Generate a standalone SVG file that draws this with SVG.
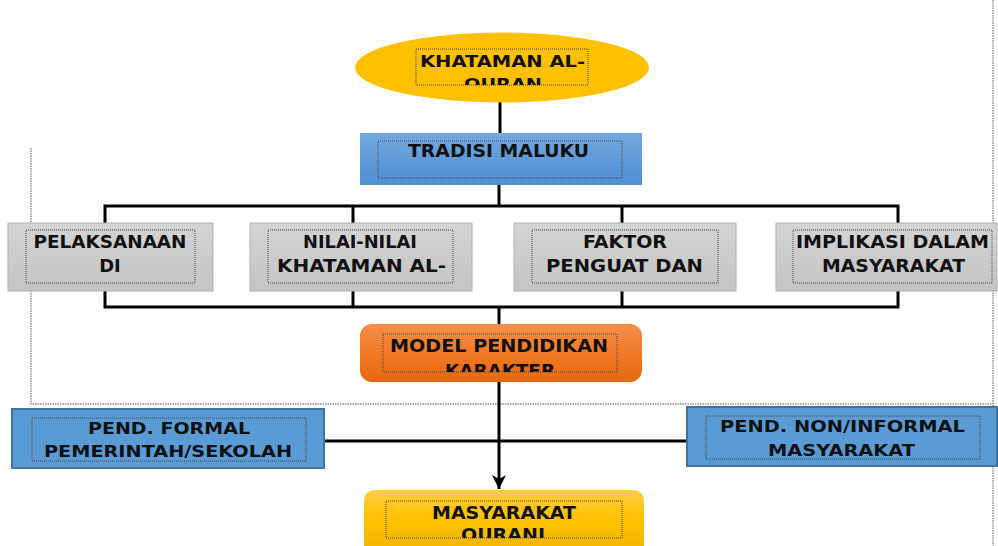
<svg xmlns="http://www.w3.org/2000/svg" width="998" height="546" viewBox="0 0 998 546">
<defs>
<style>
.t{font-family:"DejaVu Sans","Liberation Sans",sans-serif;font-weight:bold;fill:#111;text-anchor:middle}
.s17{font-size:18px}
.s16{font-size:17px}
.s15{font-size:16px}
.dot{fill:none;stroke:#444;stroke-width:1;stroke-dasharray:1 1}
.frame{fill:none;stroke:#555;stroke-width:1;stroke-dasharray:1.5 1}
.conn{fill:none;stroke:#000;stroke-width:3}
.gray{fill:url(#gGray);stroke:#b0b0b0;stroke-width:1}
.pend{fill:#5b9bd5;stroke:#41719c;stroke-width:2}
</style>
<linearGradient id="gGray" x1="0" y1="0" x2="0" y2="1"><stop offset="0" stop-color="#d4d4d4"/><stop offset="1" stop-color="#c3c3c3"/></linearGradient>
<linearGradient id="gBlue" x1="0" y1="0" x2="0" y2="1"><stop offset="0" stop-color="#72a9de"/><stop offset="1" stop-color="#4e8ed3"/></linearGradient>
<linearGradient id="gOrange" x1="0" y1="0" x2="0" y2="1"><stop offset="0" stop-color="#f48d4c"/><stop offset="0.6" stop-color="#f0761f"/><stop offset="1" stop-color="#e36a12"/></linearGradient>
<linearGradient id="gGold" x1="0" y1="0" x2="0" y2="1"><stop offset="0" stop-color="#ffcd45"/><stop offset="0.5" stop-color="#ffc200"/><stop offset="1" stop-color="#f2b600"/></linearGradient>
<clipPath id="cE"><rect x="416" y="49" width="172" height="36"/></clipPath>
<clipPath id="cM"><rect x="383" y="334" width="234" height="38"/></clipPath>
<clipPath id="cQ"><rect x="386" y="501" width="236" height="37"/></clipPath>
<marker id="arr" markerWidth="16" markerHeight="16" viewBox="0 0 16 16" refX="14" refY="8" orient="auto" markerUnits="userSpaceOnUse">
<path d="M0,1 L14,8 L0,15 L4,8 z" fill="#000"/>
</marker>
</defs>

<g id="frame">
<path class="frame" d="M31,148 V404 H993"/>
<path class="frame" d="M993,0 V546"/>
</g>

<g id="connectors">
<path class="conn" d="M500,102 V133"/>
<path class="conn" d="M499,185 V206"/>
<path class="conn" d="M105,224 V206 H898 V224"/>
<path class="conn" d="M353,206 V224"/>
<path class="conn" d="M622,206 V224"/>
<path class="conn" d="M105,291 V307 H898 V291"/>
<path class="conn" d="M353,291 V307"/>
<path class="conn" d="M622,291 V307"/>
<path class="conn" d="M499,307 V489" marker-end="url(#arr)"/>
<path class="conn" d="M324,441 H687"/>
</g>

<g id="khataman">
<ellipse cx="502" cy="67.5" rx="147" ry="35" fill="#ffc000"/>
<rect class="dot" x="416" y="49" width="172" height="36"/>
<g clip-path="url(#cE)">
<text class="t s15" x="502.5" y="67" textLength="165" lengthAdjust="spacingAndGlyphs">KHATAMAN AL-</text>
<text class="t s15" x="503" y="90" textLength="78" lengthAdjust="spacingAndGlyphs">QURAN</text>
</g>
</g>

<g id="tradisi">
<rect x="360" y="133" width="282" height="52" fill="url(#gBlue)"/>
<rect class="dot" x="378" y="141" width="244" height="37"/>
<text class="t s17" x="498.5" y="157" textLength="181" lengthAdjust="spacingAndGlyphs">TRADISI MALUKU</text>
</g>

<g id="pelaksanaan">
<rect class="gray" x="8" y="223" width="205" height="68"/>
<rect class="dot" x="26" y="230" width="169" height="53"/>
<text class="t s17" x="110" y="248" textLength="153" lengthAdjust="spacingAndGlyphs">PELAKSANAAN</text>
<text class="t s17" x="110" y="272">DI</text>
</g>

<g id="nilai">
<rect class="gray" x="250" y="223" width="222" height="68"/>
<rect class="dot" x="268" y="230" width="185" height="53"/>
<text class="t s17" x="360" y="248" textLength="114" lengthAdjust="spacingAndGlyphs">NILAI-NILAI</text>
<text class="t s17" x="361.5" y="272" textLength="169" lengthAdjust="spacingAndGlyphs">KHATAMAN AL-</text>
</g>

<g id="faktor">
<rect class="gray" x="514" y="223" width="222" height="68"/>
<rect class="dot" x="532" y="230" width="186" height="53"/>
<text class="t s17" x="625" y="248" textLength="84" lengthAdjust="spacingAndGlyphs">FAKTOR</text>
<text class="t s17" x="624.5" y="272" textLength="157" lengthAdjust="spacingAndGlyphs">PENGUAT DAN</text>
</g>

<g id="implikasi">
<rect class="gray" x="776" y="223" width="221" height="68"/>
<rect class="dot" x="793" y="230" width="199" height="53"/>
<text class="t s17" x="892.5" y="248" textLength="193" lengthAdjust="spacingAndGlyphs">IMPLIKASI DALAM</text>
<text class="t s17" x="893.5" y="272" textLength="143" lengthAdjust="spacingAndGlyphs">MASYARAKAT</text>
</g>

<g id="model">
<rect x="360" y="324" width="282" height="58" rx="12" fill="url(#gOrange)"/>
<rect class="dot" x="383" y="334" width="234" height="38"/>
<g clip-path="url(#cM)">
<text class="t s16" x="499" y="352" textLength="218" lengthAdjust="spacingAndGlyphs">MODEL PENDIDIKAN</text>
<text class="t s16" x="500" y="377" textLength="110" lengthAdjust="spacingAndGlyphs">KARAKTER</text>
</g>
</g>

<g id="formal">
<rect class="pend" x="12" y="409" width="312" height="59"/>
<rect class="dot" x="32" y="418" width="274" height="43"/>
<text class="t s15" x="169" y="434" textLength="162" lengthAdjust="spacingAndGlyphs">PEND. FORMAL</text>
<text class="t s15" x="168" y="457" textLength="248" lengthAdjust="spacingAndGlyphs">PEMERINTAH/SEKOLAH</text>
</g>

<g id="nonformal">
<rect class="pend" x="687" y="407" width="310" height="59"/>
<rect class="dot" x="706" y="416" width="274" height="43"/>
<text class="t s15" x="842.5" y="432" textLength="245" lengthAdjust="spacingAndGlyphs">PEND. NON/INFORMAL</text>
<text class="t s15" x="841.5" y="456" textLength="147" lengthAdjust="spacingAndGlyphs">MASYARAKAT</text>
</g>

<g id="qurani">
<path d="M364,546 V502 Q364,490 376,490 H632 Q644,490 644,502 V546 Z" fill="url(#gGold)"/>
<rect class="dot" x="386" y="501" width="236" height="37"/>
<g clip-path="url(#cQ)">
<text class="t s17" x="504" y="519" textLength="144" lengthAdjust="spacingAndGlyphs">MASYARAKAT</text>
<text class="t s17" x="503" y="541" textLength="84" lengthAdjust="spacingAndGlyphs">QURANI</text>
</g>
</g>
</svg>
